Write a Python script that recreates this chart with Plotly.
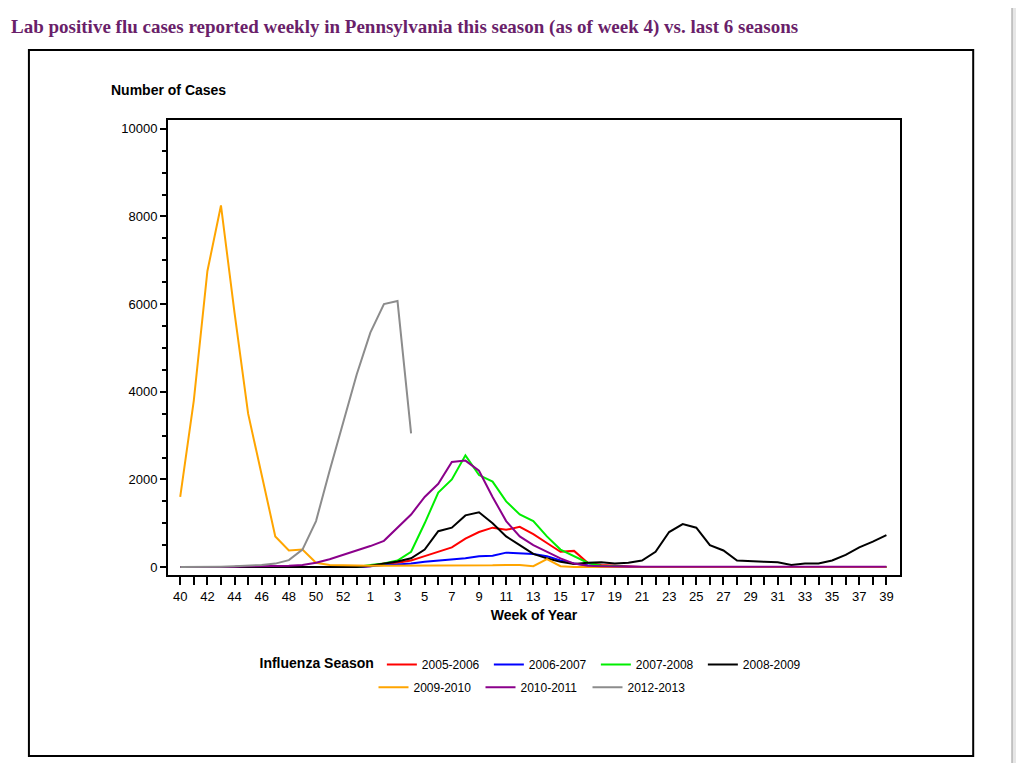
import plotly.graph_objects as go

weeks = list(range(40, 54)) + list(range(1, 40))

s0506 = [0]*14 + [20, 80, 100, 150, 250, 350, 450, 650, 800, 900, 850, 920, 750, 550, 350, 370, 100, 50, 30, 10] + [0]*19
s0607 = [0]*14 + [20, 50, 60, 80, 120, 150, 170, 200, 250, 260, 330, 310, 300, 250, 150, 80, 40, 20, 10, 0] + [0]*19
s0708 = [0]*14 + [50, 80, 150, 350, 1000, 1700, 2000, 2550, 2100, 1950, 1500, 1200, 1050, 700, 400, 250, 100, 30, 10, 0] + [0]*19
s0809 = [0]*14 + [30, 80, 130, 200, 400, 820, 900, 1180, 1250, 1000, 700, 500, 300, 200, 120, 70, 100, 110, 80, 100,
                  150, 350, 800, 980, 900, 500, 380, 150, 130, 120, 110, 50, 80, 80, 150, 280, 450, 580, 730]
s0910 = [1600, 3800, 6750, 8250, 5800, 3500, 2100, 700, 380, 400, 100, 50, 40, 30,
         30, 30, 30, 30, 30, 30, 30, 30, 40, 40, 50, 50, 20, 180, 20, 0, 0, 0, 0, 0] + [0]*19
s1011 = [0, 0, 0, 10, 10, 20, 20, 20, 30, 50, 100, 180, 280, 380,
         480, 600, 900, 1200, 1600, 1900, 2400, 2430, 2200, 1600, 1050, 700, 500, 350, 200, 80, 30, 20, 10, 10] + [10]*19
s1213 = [0, 0, 10, 10, 20, 30, 50, 80, 160, 400, 1050, 2200, 3300, 4400, 5350, 6000, 6070, 3050]

series = [("2005-2006", s0506, "#ff0000", "legend"), ("2006-2007", s0607, "#0000ff", "legend"),
          ("2007-2008", s0708, "#00ee00", "legend"), ("2008-2009", s0809, "#000000", "legend"),
          ("2009-2010", s0910, "#ffa500", "legend2"), ("2010-2011", s1011, "#8b008b", "legend2"),
          ("2012-2013", s1213, "#8c8c8c", "legend2")]

fig = go.Figure()
for name, vals, col, leg in series:
    fig.add_trace(go.Scatter(x=list(range(len(vals))), y=vals, name=name, mode="lines",
                             line=dict(color=col, width=2), legend=leg))

ticktext = [str(w) if i % 2 == 0 else "" for i, w in enumerate(weeks)]
yvals = [0, 2000, 4000, 6000, 8000, 10000]

fig.update_layout(
    width=1024, height=763,
    margin=dict(l=160, r=132, t=112, b=196),
    paper_bgcolor="white", plot_bgcolor="white",
    font=dict(family="Liberation Sans, Arial", size=13, color="black"),
    title=dict(text="<b>Lab positive flu cases reported weekly in Pennsylvania this season (as of week 4) vs. last 6 seasons</b>",
               x=0.003, xanchor="left", y=0.985, yanchor="top",
               font=dict(family="Liberation Serif, DejaVu Serif", size=19, color="#6a1f6a")),
    xaxis=dict(range=[-0.9, 53], tickvals=list(range(len(weeks))), ticktext=ticktext,
               ticks="outside", ticklen=8, tickwidth=2, tickcolor="black",
               showline=True, linecolor="black", linewidth=2, mirror=True, showgrid=False, zeroline=False,
               title=dict(text="<b>Week of Year</b>", font=dict(size=14), standoff=8)),
    yaxis=dict(range=[-180, 10200], tickvals=yvals, ticktext=[str(v) for v in yvals],
               ticks="outside", ticklen=6, tickwidth=2, tickcolor="black",
               minor=dict(dtick=500, tick0=0, ticks="outside", ticklen=4, tickcolor="black"),
               showline=True, linecolor="black", linewidth=2, mirror=True, showgrid=False, zeroline=False),
    legend=dict(orientation="h", x=0.5, xanchor="center", y=-0.165, yanchor="top",
                title=dict(text="<b>Influenza Season</b>", font=dict(size=14)),
                itemwidth=30, entrywidth=62, font=dict(size=12), bgcolor="rgba(0,0,0,0)"),
    legend2=dict(orientation="h", x=0.5, xanchor="center", y=-0.215, yanchor="top",
                 itemwidth=30, entrywidth=62, font=dict(size=12), bgcolor="rgba(0,0,0,0)"),
    annotations=[dict(text="<b>Number of Cases</b>", xref="paper", yref="paper", x=-0.08, y=1.045,
                      xanchor="left", yanchor="bottom", showarrow=False, font=dict(size=14))],
    shapes=[dict(type="rect", xref="paper", yref="paper", x0=-0.19, x1=1.1, y0=-0.398, y1=1.154,
                 line=dict(color="black", width=2)),
            dict(type="rect", xref="paper", yref="paper", x0=1.153, x1=1.19, y0=-0.44, y1=1.25,
                 fillcolor="#e6e6e6", line=dict(color="#999999", width=1))],
)

fig.write_html("out.html")
